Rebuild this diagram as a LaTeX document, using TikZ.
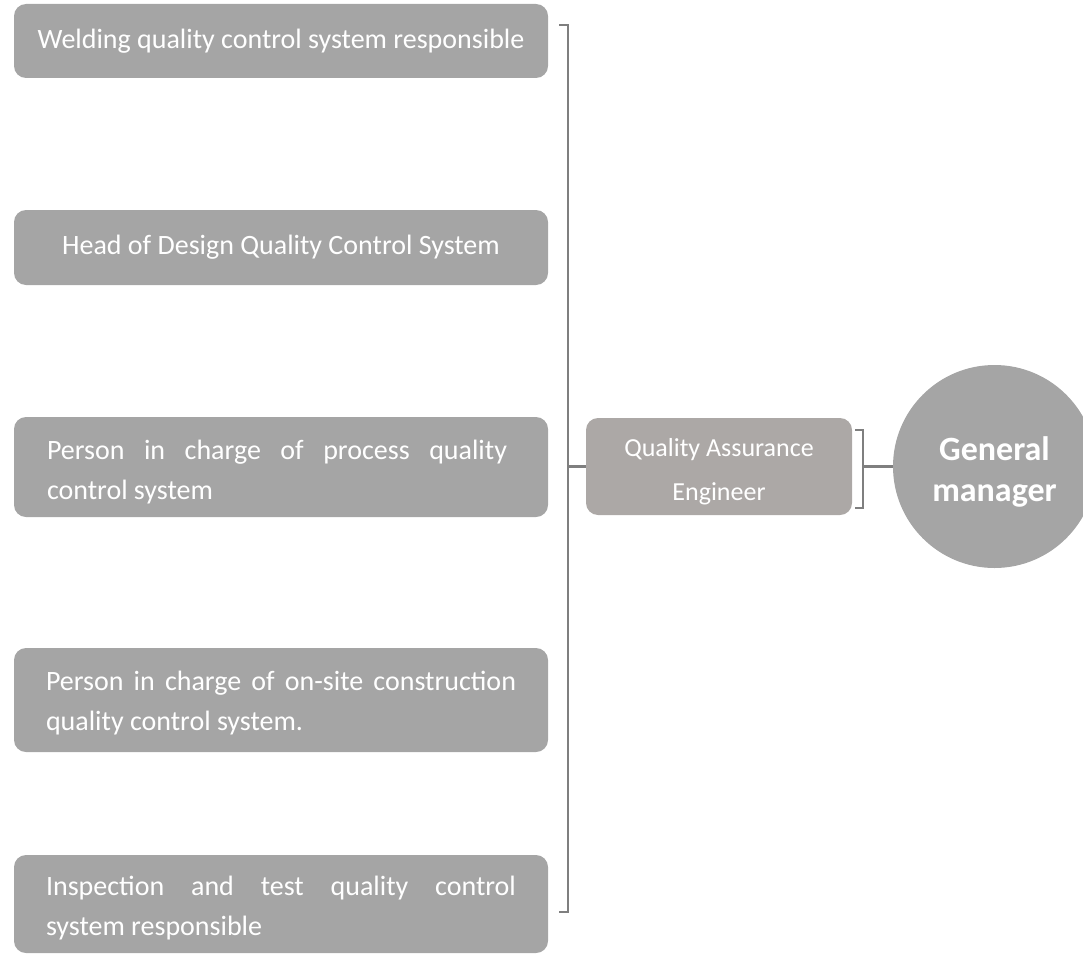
\documentclass[tikz,border=0pt]{standalone}
\usepackage{fontspec}
\setmainfont{Carlito}
\definecolor{boxgray}{HTML}{A5A5A5}
\definecolor{qagray}{HTML}{ACA8A6}
\definecolor{linegray}{HTML}{7F7F7F}
\begin{document}
\begin{tikzpicture}[x=1pt,y=-1pt,
  box/.style={fill=boxgray, rounded corners=12pt, minimum width=534pt, text=white, inner sep=0pt},
  txt/.style={font=\fontsize{28}{40}\selectfont, text=white, inner sep=0pt},
  jtxt/.style={txt, text width=470pt, align=justify},
  brk/.style={draw=linegray, line width=2.2pt},
]
\useasboundingbox (0,0) rectangle (1083,955);
\node[box, txt, minimum height=74pt] (b1) at (281,41) {Welding quality control system responsible};
\node[box, txt, minimum height=75pt] (b2) at (281,247.5) {Head of Design Quality Control System};
\node[box, minimum height=100pt] (b3) at (281,467) {};
\node[jtxt, text width=460pt] (b3t) at ([xshift=-4pt,yshift=-5pt]b3.center) {Person in charge of process quality\linebreak control system};
\node[box, minimum height=104pt] (b4) at (281,700) {};
\node[jtxt] (b4t) at ([yshift=-3pt]b4.center) {Person in charge of on-site construction\linebreak quality control system.};
\node[box, minimum height=98pt] (b5) at (281,904) {};
\node[jtxt] (b5t) at ([yshift=-4pt]b5.center) {Inspection and test quality control\linebreak system responsible};
\node[fill=qagray, rounded corners=12pt, minimum width=266pt, minimum height=97pt, inner sep=0pt] (qa) at (719,466.5) {};
\node[text=white, align=center, inner sep=0pt, font=\fontsize{26}{44}\selectfont] (qat) at ([yshift=-5pt]qa.center) {Quality Assurance\\Engineer};
\node[circle, fill=boxgray, minimum size=203pt, inner sep=0pt] (gm) at (994.5,466.5) {};
\node[text=white, align=center, inner sep=0pt, font=\fontsize{34}{41}\selectfont\bfseries] (gmt) at ([yshift=-5pt]gm.center) {General\\manager};
% bracket 1
\coordinate (t1) at (568,25);
\coordinate (u1) at (568,912);
\draw[brk] (559,25) -- (t1) -- (u1) -- (559,912);
\draw[brk] (568,466.5) -- (qa.west);
% bracket 2
\coordinate (t2) at (863,430);
\coordinate (u2) at (863,508);
\draw[brk] (855,430) -- (t2) -- (u2) -- (855,508);
\draw[brk] (863,466.5) -- (gm.west);
\end{tikzpicture}
\end{document}
